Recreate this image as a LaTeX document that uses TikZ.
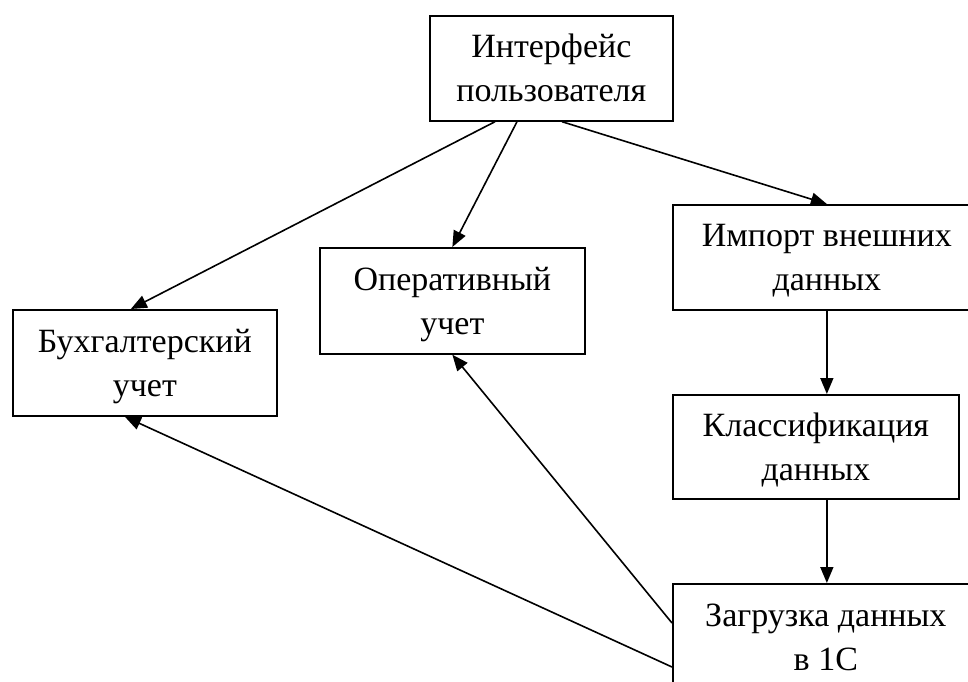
\documentclass[tikz,border=0pt]{standalone}
\usepackage{fontspec}
\setmainfont{Liberation Serif}
\usetikzlibrary{arrows.meta,calc}
% two centred lines with fixed ascent and descent, so every box sets its text alike
\newcommand\boxlines[2]{\rule{0pt}{33pt}#1\\#2\rule[-10pt]{0pt}{10pt}}
\begin{document}
\begin{tikzpicture}[x=1pt,y=-1pt,
  box/.style={draw,line width=1.7pt,anchor=north west,align=center,
    inner sep=0pt,font=\fontsize{34}{44}\selectfont},
  arr/.style={line width=1.6pt,-{Triangle[length=16pt,width=13pt]}}]
\useasboundingbox[fill=white] (0,0) rectangle (968,681);
% boxes
\node[box,minimum width=243pt,minimum height=105pt] (ui) at (429,15) {\boxlines{Интерфейс}{пользователя}};
\node[box,minimum width=264pt,minimum height=106pt] (acc) at (12,309) {\boxlines{Бухгалтерский}{учет}};
\node[box,minimum width=265pt,minimum height=106pt] (ops) at (319,247) {\boxlines{Оперативный}{учет}};
\node[box,minimum width=308pt,minimum height=105pt] (imp) at (672,204) {\boxlines{Импорт внешних}{данных}};
\node[box,minimum width=286pt,minimum height=104pt] (cls) at (672,394) {\boxlines{Классификация}{данных}};
\node[box,minimum width=306pt,minimum height=106pt] (load) at (672,583) {\boxlines{Загрузка данных}{в 1С}};
% connectors from the user interface
\draw[arr] ($(ui.south west)+(66,0)$) -- ($(acc.north)+(-14,0)$);
\draw[arr] ($(ui.south west)+(88,0)$) -- (ops.north);
\draw[arr] ($(ui.south west)+(133,0)$) -- (imp.north);
% processing chain
\draw[arr] (imp.south) -- (imp.south |- cls.north);
\draw[arr] (imp.south |- cls.south) -- (imp.south |- load.north);
% results back to the accounting blocks
\draw[arr] ($(load.north west)+(0,40)$) -- (ops.south);
\draw[arr] ($(load.north west)+(0,84)$) -- ($(acc.south)+(-20,0)$);
\end{tikzpicture}
\end{document}
